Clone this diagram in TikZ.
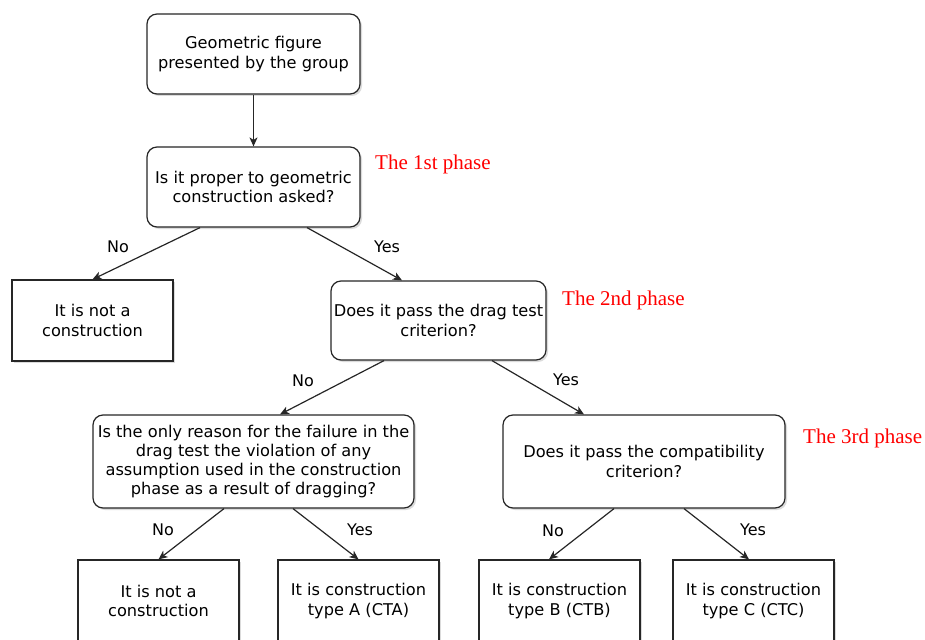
\documentclass[tikz,border=0pt]{standalone}
\usepackage{fontspec}
\setmainfont{DejaVu Sans}
\newfontfamily\phasefont{Liberation Serif}
\usetikzlibrary{arrows.meta,shadows}

\tikzset{
  boxbase/.style={draw=black!85, line width=1.2pt, fill=white, align=center,
    inner sep=0pt, font=\fontsize{16.2}{19.3}\selectfont,
    drop shadow={shadow xshift=2pt, shadow yshift=-2pt, fill=black, opacity=0.14}},
  question/.style={boxbase, rounded corners=10pt},
  outcome/.style={boxbase},
  arr/.style={draw=black!85, line width=1.2pt, -{Stealth[length=9pt,width=8pt,inset=2.5pt]}},
  edgelabel/.style={font=\fontsize{16}{18}\selectfont, inner sep=0pt},
  phase/.style={text=red, font=\phasefont\fontsize{21}{24}\selectfont, inner sep=0pt, anchor=west}
}

\begin{document}
\begin{tikzpicture}[x=1pt,y=-1pt]
  \useasboundingbox (0,0) rectangle (925,639);

  % questions
  \node[question, minimum width=213pt, minimum height=80pt] (start) at (253.5,54)
    {Geometric figure\\presented by the group};
  \node[question, minimum width=213pt, minimum height=80pt] (proper) at (253.5,187)
    {Is it proper to geometric\\construction asked?};
  \node[question, minimum width=215pt, minimum height=79pt] (drag) at (438.5,320.5)
    {Does it pass the drag test\\criterion?};
  \node[question, minimum width=321pt, minimum height=93pt] (reason) at (253.5,461.5)
    {Is the only reason for the failure in the\\drag test the violation of any\\assumption used in the construction\\phase as a result of dragging?};
  \node[question, minimum width=282pt, minimum height=93pt] (compat) at (644,461.5)
    {Does it pass the compatibility\\criterion?};

  % outcomes
  \node[outcome, minimum width=161pt, minimum height=81pt] (notA) at (92.5,320.5)
    {It is not a\\construction};
  \node[outcome, minimum width=161pt, minimum height=82pt] (notB) at (158.5,601)
    {It is not a\\construction};
  \node[outcome, minimum width=161pt, minimum height=82pt] (cta) at (358.5,601)
    {It is construction\\type A (CTA)};
  \node[outcome, minimum width=161pt, minimum height=82pt] (ctb) at (559.5,601)
    {It is construction\\type B (CTB)};
  \node[outcome, minimum width=161pt, minimum height=82pt] (ctc) at (753.5,601)
    {It is construction\\type C (CTC)};

  % connectors
  \draw[arr] (start.south) -- (proper.north);
  \draw[arr] ([xshift=-53.5pt]proper.south) -- (notA.north);
  \draw[arr] ([xshift=53.5pt]proper.south) -- ([xshift=-36.5pt]drag.north);
  \draw[arr] ([xshift=-54.5pt]drag.south) -- ([xshift=26.5pt]reason.north);
  \draw[arr] ([xshift=53.5pt]drag.south) -- ([xshift=-60pt]compat.north);
  \draw[arr] ([xshift=-29.5pt]reason.south) -- (notB.north);
  \draw[arr] ([xshift=39.5pt]reason.south) -- (cta.north);
  \draw[arr] ([xshift=-30pt]compat.south) -- ([xshift=-10.5pt]ctb.north);
  \draw[arr] ([xshift=40pt]compat.south) -- ([xshift=-4.5pt]ctc.north);

  % branch labels
  \node[edgelabel] (l1) at (118,247) {No};
  \node[edgelabel] (l2) at (387,247) {Yes};
  \node[edgelabel] (l3) at (303,381) {No};
  \node[edgelabel] (l4) at (566,380) {Yes};
  \node[edgelabel] (l5) at (163,530) {No};
  \node[edgelabel] (l6) at (360,530) {Yes};
  \node[edgelabel] (l7) at (553,531) {No};
  \node[edgelabel] (l8) at (753,530) {Yes};

  % phase annotations
  \node[phase] (p1) at (375,164) {The 1st phase};
  \node[phase] (p2) at (562,300) {The 2nd phase};
  \node[phase] (p3) at (803,438) {The 3rd phase};
\end{tikzpicture}
\end{document}
